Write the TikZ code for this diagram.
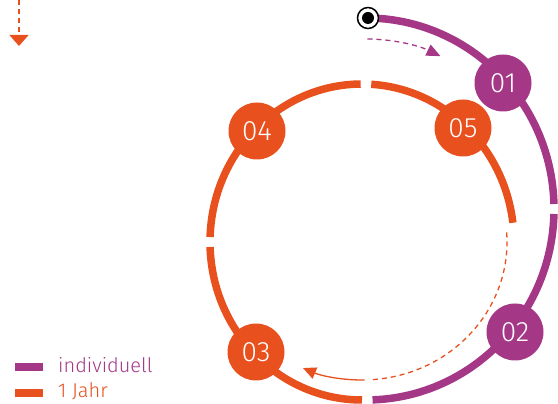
\documentclass[tikz,border=0pt]{standalone}
\usepackage{fontspec}
\setmainfont{Fira Sans}[UprightFont={* Light}]
\usetikzlibrary{arrows.meta}
\definecolor{ungu}{RGB}{165,55,135}
\definecolor{oranye}{RGB}{232,80,30}
\tikzset{
    langkah/.style={circle, fill=#1, minimum size=57pt, inner sep=0pt, text=white, font=\fontsize{28}{28}\selectfont},
    cincin/.style={#1, line width=7.5pt},
    panahtipis/.style={#1, line width=1.3pt, dash pattern=on 5pt off 4pt},
}

\begin{document}
\begin{tikzpicture}[x=1pt, y=1pt]
    \useasboundingbox (0,0) rectangle (558,404);
    \coordinate (pusatU) at (366,195);
    \coordinate (pusatO) at (362,162);

    % Cincin ungu (individuell)
    \draw[cincin=ungu] (pusatU) ++(90:188 and 191) arc[start angle=90, end angle=1.5, x radius=188, y radius=191];
    \draw[cincin=ungu] (pusatU) ++(-1.5:188 and 191) arc[start angle=-1.5, end angle=-88, x radius=188, y radius=191];

    % Cincin oranye (1 Jahr)
    \draw[cincin=oranye] (pusatO) ++(86.5:152 and 158) arc[start angle=86.5, end angle=7, x radius=152, y radius=158];
    \draw[cincin=oranye] (pusatO) ++(90.5:152 and 158) arc[start angle=90.5, end angle=178.2, x radius=152, y radius=158];
    \draw[cincin=oranye] (pusatO) ++(181.8:152 and 158) arc[start angle=181.8, end angle=270, x radius=152, y radius=158];

    % Panah putus-putus di dalam
    \draw[panahtipis=oranye] (pusatO) ++(4:145 and 138) arc[start angle=4, end angle=-86, x radius=145, y radius=138];
    \draw[oranye, line width=1.3pt, -{Triangle[width=12pt, length=13pt]}] (pusatO) ++(-89:145 and 138) arc[start angle=-89, end angle=-114, x radius=145, y radius=138];
    \draw[panahtipis=ungu, -{Triangle[width=12pt, length=14pt]}] (pusatU) ++(89.5:170) arc[start angle=89.5, end angle=64, radius=170];

    % Titik awal
    \node[circle, draw=black, line width=1.5pt, fill=white, minimum size=21pt, inner sep=0pt] (mulai) at (368,386) {};
    \fill[black] (mulai.center) circle (6);

    % Panah kiri atas
    \coordinate (atas) at (19,404);
    \coordinate (bawah) at (19,358);
    \draw[panahtipis=oranye, -{Triangle[width=19pt, length=11pt]}] (atas) -- (bawah);

    % Langkah-langkah
    \node[langkah=ungu] (n01) at (503,321) {01};
    \node[langkah=ungu] (n02) at (515,72) {02};
    \node[langkah=oranye] (n03) at (256,52) {03};
    \node[langkah=oranye] (n04) at (257,273) {04};
    \node[langkah=oranye] (n05) at (463,276) {05};

    % Legenda
    \fill[ungu] (15,33) rectangle (43,41);
    \fill[oranye] (15,7) rectangle (43,15);
    \node[anchor=base west, text=ungu, font=\fontsize{20}{20}\selectfont, inner sep=0pt] (legU) at (58,31) {individuell};
    \node[anchor=base west, text=oranye, font=\fontsize{20}{20}\selectfont, inner sep=0pt] (legO) at (58,6) {1 Jahr};
\end{tikzpicture}
\end{document}
